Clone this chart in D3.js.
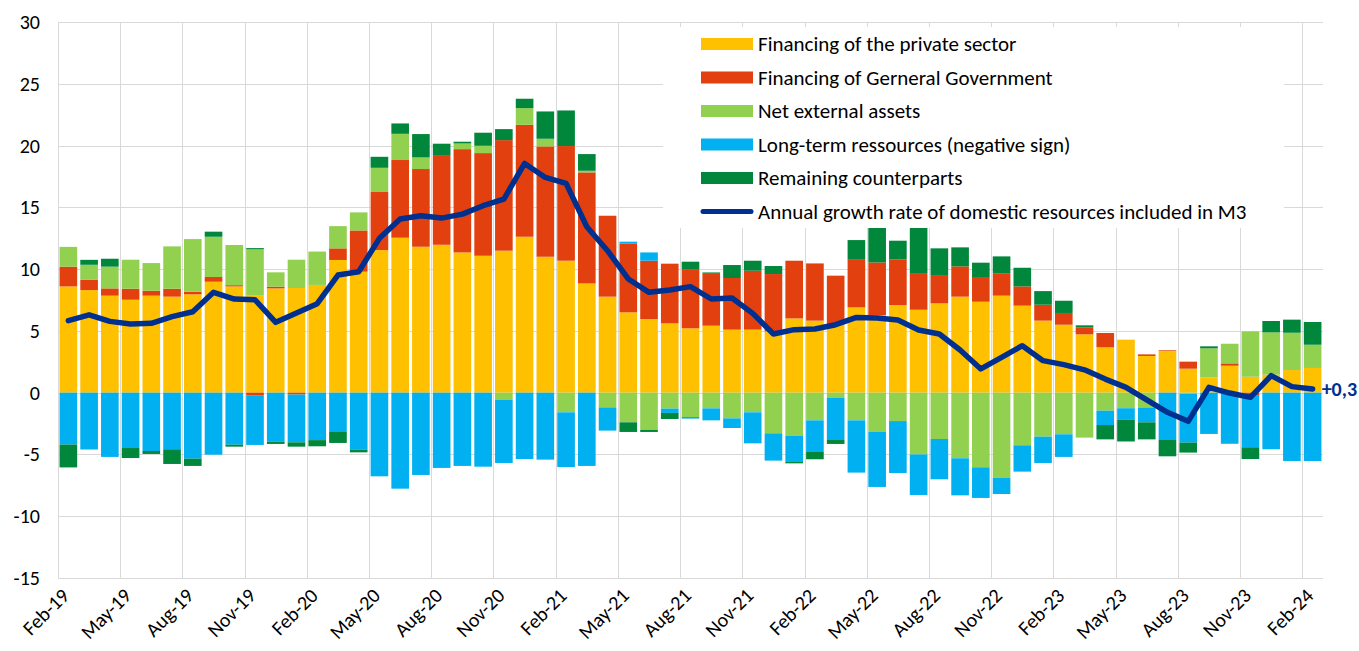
<!DOCTYPE html>
<html>
<head>
<meta charset="utf-8">
<script src="https://cdn.jsdelivr.net/npm/d3@7"></script>
<style>
  html, body { margin: 0; padding: 0; background: #fff; }
  svg { display: block; font-family: Carlito, Calibri, Lato, sans-serif; }
</style>
</head>
<body>
<svg id="chart" width="1359" height="651"></svg>
<script>
const months = [
  "Feb-19","Mar-19","Apr-19","May-19","Jun-19","Jul-19","Aug-19","Sep-19","Oct-19","Nov-19","Dec-19",
  "Jan-20","Feb-20","Mar-20","Apr-20","May-20","Jun-20","Jul-20","Aug-20","Sep-20","Oct-20","Nov-20","Dec-20",
  "Jan-21","Feb-21","Mar-21","Apr-21","May-21","Jun-21","Jul-21","Aug-21","Sep-21","Oct-21","Nov-21","Dec-21",
  "Jan-22","Feb-22","Mar-22","Apr-22","May-22","Jun-22","Jul-22","Aug-22","Sep-22","Oct-22","Nov-22","Dec-22",
  "Jan-23","Feb-23","Mar-23","Apr-23","May-23","Jun-23","Jul-23","Aug-23","Sep-23","Oct-23","Nov-23","Dec-23",
  "Jan-24","Feb-24"
];
const privateSector = [
  8.6,8.3,7.85,7.52,7.85,7.77,7.96,8.98,8.6,7.85,8.44,
  8.47,8.72,10.74,9.79,11.54,12.54,11.81,11.97,11.35,11.08,11.49,12.62,
  11.0,10.68,8.84,7.77,6.5,5.96,5.61,5.21,5.42,5.1,5.1,4.96,
  6.01,5.83,5.55,6.9,6.28,7.09,6.71,7.23,7.77,7.36,7.85,7.04,
  5.83,5.5,4.72,3.67,4.29,2.97,3.4,1.94,1.24,2.18,1.29,1.46,
  1.83,2.0
];
const generalGovernment = [
  1.6,0.85,0.59,0.89,0.4,0.64,0.21,0.38,0.1,-0.2,0.14,
  -0.15,0,0.94,3.34,4.7,6.29,6.29,7.2,8.36,8.31,8.95,9.06,
  8.93,9.28,8.99,6.55,5.55,4.72,4.83,4.79,4.26,4.18,4.77,4.64,
  4.67,4.63,3.92,3.91,4.26,3.7,2.97,2.29,2.45,2.0,1.78,1.56,
  1.29,0.95,0.57,1.16,0,0.13,0.05,0.57,0,0.19,-0.19,0,
  0,0
];
const netExternalAssets = [
  1.6,1.2,1.76,2.35,2.24,3.43,4.26,3.26,3.25,3.75,1.16,
  2.29,2.7,1.8,1.46,1.96,2.12,0.94,0,0.46,0.59,-0.59,1.35,
  0.62,-1.59,0.13,-1.19,-2.4,-3.02,-1.29,-1.97,-1.27,-2.08,-1.59,-3.29,
  -3.48,-2.24,-0.43,-2.24,-3.18,-2.3,-5.0,-3.75,-5.31,-6.04,-6.88,-4.26,
  -3.56,-3.37,-3.64,-1.46,-1.26,-1.2,0,-0.1,2.35,1.59,3.67,3.42,
  3.02,1.88
];
const longTermResources = [
  -4.2,-4.6,-5.2,-4.48,-4.72,-4.58,-5.34,-5.02,-4.21,-4.03,-3.96,
  -3.87,-3.84,-3.13,-4.61,-6.77,-7.77,-6.66,-6.09,-5.93,-5.99,-5.1,-5.37,
  -5.42,-4.43,-5.93,-1.88,0.17,0.67,-0.35,-0.13,-0.97,-0.78,-2.51,-2.21,
  -2.08,-2.51,-3.35,-4.23,-4.45,-4.2,-3.28,-3.26,-3.0,-2.48,-1.32,-2.13,
  -2.13,-1.83,0,-1.16,-0.94,-1.2,-3.83,-3.94,-3.34,-4.07,-4.23,-4.58,
  -5.53,-5.53
];
const remainingCounterparts = [
  -1.85,0.4,0.64,-0.81,-0.24,-1.19,-0.59,0.41,-0.16,0.1,-0.19,
  -0.35,-0.5,-0.94,-0.22,0.89,0.84,1.89,0.98,0.14,1.06,0.89,0.76,
  2.21,2.88,1.35,0,-0.78,-0.16,-0.49,0.6,0.05,1.05,0.81,0.65,
  -0.16,-0.64,-0.37,1.54,2.91,1.51,3.77,2.16,1.54,1.16,1.4,1.51,
  1.1,0.99,0.16,-1.16,-1.75,-1.38,-1.32,-0.81,0.16,-0.05,-0.95,0.92,
  1.06,1.84
];
const growthRate = [
  5.83,6.3,5.77,5.56,5.61,6.15,6.55,8.12,7.58,7.52,5.69,
  6.45,7.2,9.52,9.79,12.49,14.05,14.32,14.13,14.45,15.13,15.67,18.55,
  17.42,16.94,13.43,11.49,9.2,8.12,8.31,8.58,7.58,7.66,6.42,4.75,
  5.1,5.15,5.5,6.09,6.04,5.88,5.07,4.75,3.45,1.92,2.86,3.8,
  2.59,2.27,1.85,1.1,0.43,-0.59,-1.59,-2.32,0.43,-0.03,-0.38,1.38,
  0.49,0.3
];
const yTicks = [-15,-10,-5,0,5,10,15,20,25,30];
const seriesNames = [
  "Financing of the private sector",
  "Financing of Gerneral Government",
  "Net external assets",
  "Long-term ressources (negative sign)",
  "Remaining counterparts"
];
const lineName = "Annual growth rate of domestic resources included in M3";
const lastLabel = "+0,3";
const colors = ["#FFC000", "#E2410F", "#92D050", "#00B0F0", "#00873C"];
const lineColor = "#00308F";

const keys = ["p", "g", "n", "l", "r"];
const table = months.map((m, i) => ({
  m, p: privateSector[i], g: generalGovernment[i], n: netExternalAssets[i],
  l: longTermResources[i], r: remainingCounterparts[i]
}));

const svg = d3.select("#chart");
const plotL = 58, plotR = 1323, plotT = 22, plotB = 578;
const x = d3.scaleBand().domain(months).range([plotL, plotR]).paddingInner(0.15).paddingOuter(0.075);
const y = d3.scaleLinear().domain([-15, 30]).range([plotB, plotT]);
const step = x.step();
const gridColor = "#D9D9D9";

// horizontal gridlines
svg.append("g").selectAll("line").data(yTicks).join("line")
  .attr("x1", plotL).attr("x2", plotR)
  .attr("y1", d => Math.round(y(d)) + 0.5).attr("y2", d => Math.round(y(d)) + 0.5)
  .attr("stroke", gridColor).attr("stroke-width", 1);

// vertical gridlines every 3 months
const vIdx = months.map((m, i) => i).filter(i => i % 3 === 0);
svg.append("g").selectAll("line").data(vIdx).join("line")
  .attr("x1", i => Math.round(x(months[i]) - (step - x.bandwidth()) / 2) + 0.5)
  .attr("x2", i => Math.round(x(months[i]) - (step - x.bandwidth()) / 2) + 0.5)
  .attr("y1", plotT).attr("y2", plotB)
  .attr("stroke", gridColor).attr("stroke-width", 1);

// y labels
svg.append("g").selectAll("text").data(yTicks).join("text")
  .attr("x", 40).attr("y", d => y(d)).attr("dy", "0.35em")
  .attr("text-anchor", "end").attr("font-size", 20).attr("fill", "#000")
  .text(d => d);

// stacked bars
const stack = d3.stack().keys(keys).offset(d3.stackOffsetDiverging);
const layers = stack(table);
svg.append("g").selectAll("g").data(layers).join("g")
  .attr("fill", (d, i) => colors[i])
  .selectAll("rect").data(d => d).join("rect")
  .attr("x", d => x(d.data.m))
  .attr("width", x.bandwidth())
  .attr("y", d => y(Math.max(d[0], d[1])))
  .attr("height", d => Math.abs(y(d[0]) - y(d[1])));

// line
const line = d3.line()
  .x((d, i) => x(months[i]) + x.bandwidth() / 2)
  .y(d => y(d));
svg.append("path").datum(growthRate)
  .attr("d", line).attr("fill", "none")
  .attr("stroke", lineColor).attr("stroke-width", 5.5)
  .attr("stroke-linejoin", "round").attr("stroke-linecap", "round");

svg.append("text")
  .attr("x", x(months[months.length - 1]) + x.bandwidth() / 2 + 9)
  .attr("y", y(growthRate[growthRate.length - 1]))
  .attr("dy", "0.35em").attr("font-size", 20).attr("font-weight", "bold")
  .attr("fill", lineColor).text(lastLabel);

// x labels
svg.append("g").selectAll("text").data(vIdx).join("text")
  .attr("transform", i => `translate(${x(months[i]) + x.bandwidth() / 2 - 3},${plotB + 14}) rotate(-45)`)
  .attr("text-anchor", "end").attr("dy", "0.35em")
  .attr("font-size", 20).attr("fill", "#000")
  .text(i => months[i]);

// legend
const lg = svg.append("g");
lg.append("rect").attr("x", 663).attr("y", 27).attr("width", 621).attr("height", 201).attr("fill", "#fff");
const rowY = [44, 77.5, 111, 144.5, 178, 211.5];
seriesNames.forEach((name, i) => {
  lg.append("rect").attr("x", 701).attr("y", rowY[i] - 6).attr("width", 52).attr("height", 12).attr("fill", colors[i]);
  lg.append("text").attr("x", 758).attr("y", rowY[i]).attr("dy", "0.35em")
    .attr("font-size", 21).attr("fill", "#000").text(name);
});
lg.append("line").attr("x1", 703).attr("x2", 751).attr("y1", rowY[5]).attr("y2", rowY[5])
  .attr("stroke", lineColor).attr("stroke-width", 5).attr("stroke-linecap", "round");
lg.append("text").attr("x", 758).attr("y", rowY[5]).attr("dy", "0.35em")
  .attr("font-size", 21).attr("fill", "#000").text(lineName);
</script>
</body>
</html>
